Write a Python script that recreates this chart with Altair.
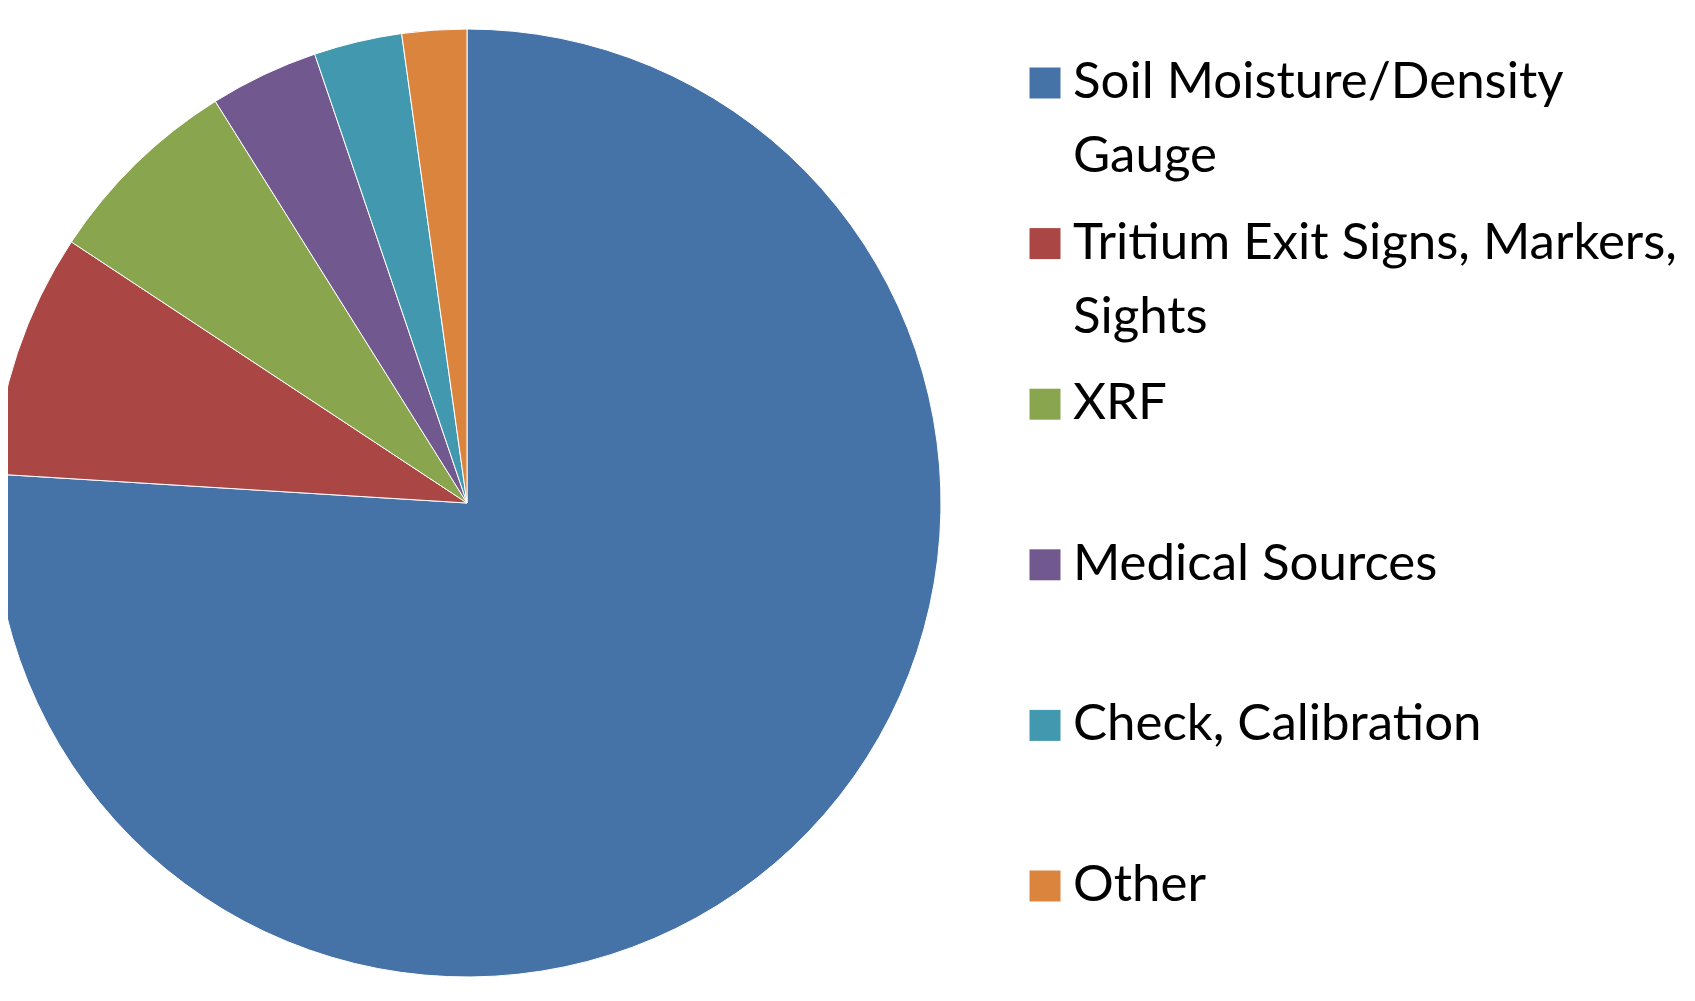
import altair as alt
import pandas as pd

categories = [
    "Soil Moisture/Density Gauge",
    "Tritium Exit Signs, Markers, Sights",
    "XRF",
    "Medical Sources",
    "Check, Calibration",
    "Other",
]
values = [75.9, 8.3, 6.8, 3.7, 3.0, 2.2]
legend_labels = [
    "Soil Moisture/Density\nGauge",
    "Tritium Exit Signs, Markers,\nSights",
    "XRF",
    "Medical Sources",
    "Check, Calibration",
    "Other",
]
colors = ["#4572A7", "#AA4643", "#89A54E", "#71588F", "#4198AF", "#DB843D"]

df = pd.DataFrame({
    "category": categories,
    "value": values,
    "label": legend_labels,
    "order": list(range(len(categories))),
})

color_scale = alt.Scale(domain=categories, range=colors)

pie = alt.Chart(df).mark_arc(outerRadius=474, stroke="#ffffff", strokeWidth=1).encode(
    x=alt.value(459),
    y=alt.value(495),
    theta=alt.Theta("value:Q", stack=True),
    color=alt.Color("category:N", scale=color_scale, legend=None),
    order=alt.Order("order:Q", sort="ascending"),
)

y_enc = alt.Y("category:N", sort=categories, axis=None,
              scale=alt.Scale(type="point", range=[75, 878], padding=0))

squares = alt.Chart(df).mark_square(size=960, opacity=1).encode(
    x=alt.value(1037),
    y=y_enc,
    color=alt.Color("category:N", scale=color_scale, legend=None),
)
texts = alt.Chart(df).mark_text(
    align="left", baseline="top", dy=-25, fontSize=51, font="Lato",
    lineBreak="\n", lineHeight=74, color="#000000",
).encode(
    x=alt.value(1065),
    y=y_enc,
    text="label:N",
)

chart = alt.layer(pie, squares, texts).properties(
    width=1679, height=985, padding=0,
    autosize=alt.AutoSizeParams(type="none"),
).configure_view(stroke=None)

chart.save("out.html", embed_options={"renderer": "svg", "actions": False})
